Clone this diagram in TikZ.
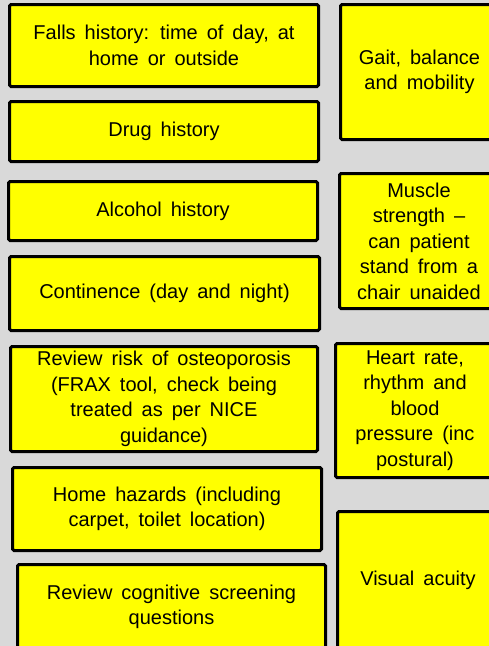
\documentclass[tikz,border=0pt]{standalone}
\usepackage{fontspec}
\setmainfont{Liberation Sans}
\definecolor{slidegray}{RGB}{217,217,217}
\definecolor{boxyellow}{RGB}{255,255,0}
\newcommand{\boxfont}{\fontsize{20}{25.5}\selectfont\spaceskip 0.45em\relax}

\begin{document}
\begin{tikzpicture}[x=1pt,y=-1pt,
  check box/.style={rectangle,draw=black,line width=3pt,fill=boxyellow,rounded corners=1.5pt,
    align=center,inner sep=0pt,font=\boxfont}]

  \fill[slidegray] (0,0) rectangle (489,646);
  \useasboundingbox (0,0) rectangle (489,646);
  \clip (0,0) rectangle (489,646);

  % left column
  \node[check box,minimum width=309,minimum height=82] (falls) at (164,45.5)
    {Falls history: time of day, at\\home or outside};
  \node[check box,minimum width=309,minimum height=60] (drug) at (164,131.5) {Drug history};
  \node[check box,minimum width=309,minimum height=59] (alcohol) at (163,211) {Alcohol history};
  \node[check box,minimum width=310,minimum height=74] (continence) at (164.5,293.5)
    {Continence (day and night)};
  \node[check box,minimum width=307,minimum height=105] (osteo) at (164,399)
    {Review risk of osteoporosis\\(FRAX tool, check being\\treated as per NICE\\guidance)};
  \node[check box,minimum width=309,minimum height=83] (home) at (167,509)
    {Home hazards (including\\carpet, toilet location)};
  \node[check box,minimum width=308,minimum height=85] (cognitive) at (171.5,607)
    {Review cognitive screening\\questions};

  % right column
  \node[check box,minimum width=158,minimum height=135] (gait) at (419.5,72)
    {Gait, balance\\and mobility};
  \node[check box,minimum width=159,minimum height=135] (muscle) at (419,241)
    {Muscle\\strength --\\can patient\\stand from a\\chair unaided};
  \node[check box,minimum width=159,minimum height=134] (heart) at (415,410.5)
    {Heart rate,\\rhythm and\\blood\\pressure (inc\\postural)};
  \node[check box,minimum width=161,minimum height=137] (visual) at (418,580) {Visual acuity};

\end{tikzpicture}
\end{document}
